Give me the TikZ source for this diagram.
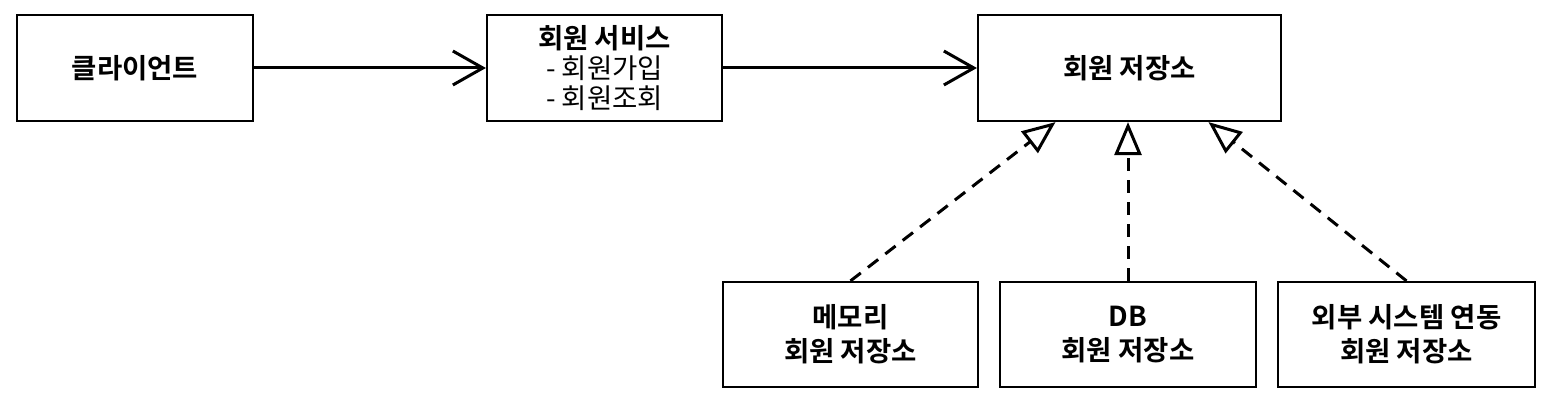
\documentclass[tikz,border=0pt]{standalone}
\usepackage{fontspec}
\setmainfont{Noto Sans CJK KR}[BoldFont={* Bold}]
\usetikzlibrary{arrows.meta,calc}
\begin{document}
\begin{tikzpicture}[x=1pt,y=-1pt,
  box/.style={draw,line width=2.2pt,rectangle,inner sep=0pt,align=center,font=\fontsize{27.5}{34}\selectfont\bfseries},
  assoc/.style={line width=3pt,-{Straight Barb[length=30pt,width=34pt,line width=3pt]}},
  realize/.style={line width=3pt,dash pattern=on 13pt off 9pt,-{Triangle[open,length=33pt,width=27pt,line width=3pt,sep=0pt]}}]
\useasboundingbox (0,0) rectangle (1560,404);
\fill[white] (0,0) rectangle (1560,404);
\node[box,minimum width=236pt,minimum height=106pt] (client) at (135,68) {클라이언트};
\node[box,minimum width=235pt,minimum height=106pt] (service) at (604.5,68)
  {회원 서비스\\[-4pt]\mdseries - 회원가입\\[-4pt]\mdseries - 회원조회};
\node[box,minimum width=303pt,minimum height=106pt] (repo) at (1129.5,68) {회원 저장소};
\node[box,minimum width=255pt,minimum height=105pt] (mem) at (850.5,334.5) {메모리\\회원 저장소};
\node[box,minimum width=256pt,minimum height=105pt] (db) at (1128,334.5) {DB\\회원 저장소};
\node[box,minimum width=257pt,minimum height=105pt] (ext) at (1406.5,334.5) {외부 시스템 연동\\회원 저장소};
\coordinate (t1) at ($(repo.south)+(-74,0)$);
\coordinate (t2) at ($(repo.south)+(-1.5,0)$);
\coordinate (t3) at ($(repo.south)+(79,0)$);
\draw[assoc] (client.east) -- (service.west);
\draw[assoc] (service.east) -- (repo.west);
\draw[realize] (mem.north) -- (t1);
\draw[realize] (db.north) -- (t2);
\draw[realize] (ext.north) -- (t3);
\end{tikzpicture}
\end{document}
